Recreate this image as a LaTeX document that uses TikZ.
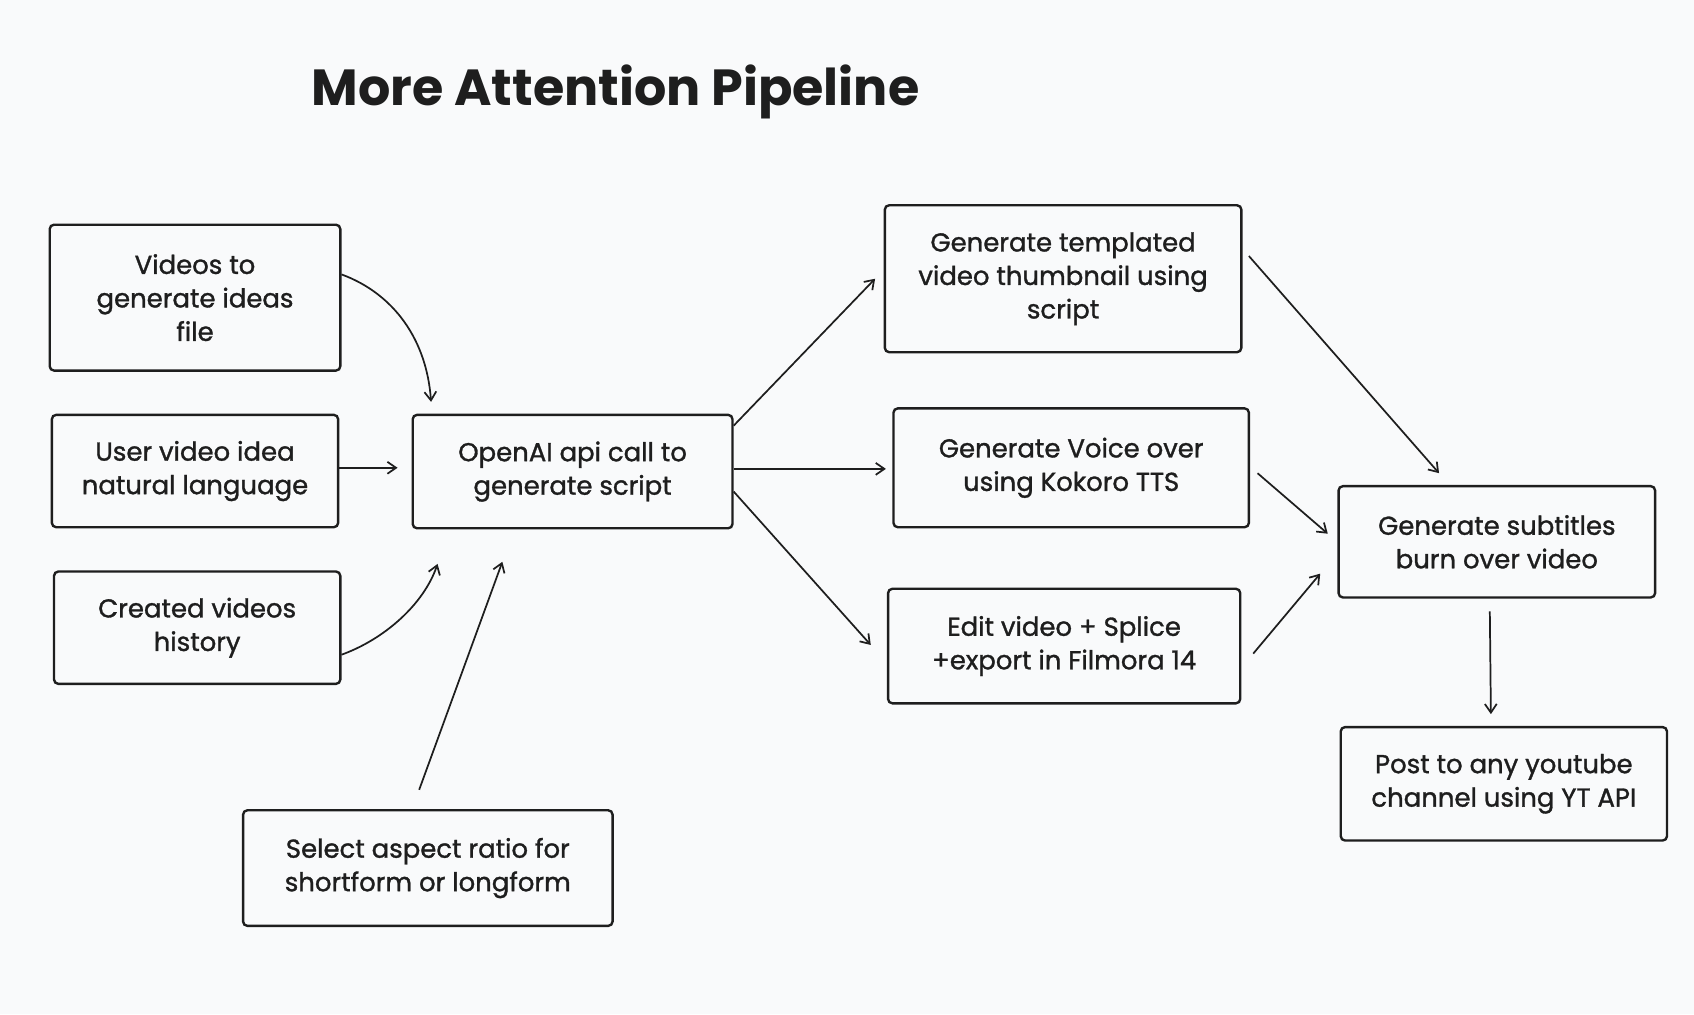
\documentclass[tikz,border=0pt]{standalone}
\usepackage{fontspec}
\setmainfont{Poppins}
\newfontfamily\boxfont{Poppins}[FakeBold=1.2]
\usetikzlibrary{arrows.meta}
\definecolor{bgc}{HTML}{F9FAFB}
\definecolor{ink}{HTML}{1E1E1E}
\tikzset{
  box/.style={draw=ink, line width=2.2pt, rounded corners=4pt, inner sep=0pt,
    align=center, text=ink, font=\boxfont\fontsize{24}{31}\selectfont},
  conn/.style={draw=ink, line width=1.6pt, -{Straight Barb[length=8pt,width=11pt,line width=1.6pt]}},
}
\begin{document}
\begin{tikzpicture}[x=1pt,y=-1pt]
\fill[bgc] (0,0) rectangle (1568,939);
\useasboundingbox (0,0) rectangle (1568,939);
\node[text=ink, font=\fontsize{47}{50}\selectfont\bfseries, anchor=base west] (title) at (285,98) {More Attention Pipeline};

\node[box, minimum width=269pt, minimum height=135pt] (b1) at (180.5,275.5) {Videos to\\generate ideas\\file};
\node[box, minimum width=265pt, minimum height=104pt] (b2) at (180.5,436) {User video idea\\natural language};
\node[box, minimum width=265pt, minimum height=104pt] (b3) at (182.5,581) {Created videos\\history};
\node[box, minimum width=296pt, minimum height=105pt] (b4) at (530,436.5) {OpenAI api call to\\generate script};
\node[box, minimum width=342pt, minimum height=107pt] (b5) at (396,803.5) {Select aspect ratio for\\shortform or longform};
\node[box, minimum width=330pt, minimum height=136pt] (b6) at (984,258) {Generate templated\\video thumbnail using\\script};
\node[box, minimum width=329pt, minimum height=110pt] (b7) at (991.5,433) {Generate Voice over\\using Kokoro TTS};
\node[box, minimum width=326pt, minimum height=106pt] (b8) at (985,598) {Edit video + Splice\\+export in Filmora 14};
\node[box, minimum width=293pt, minimum height=103pt] (b9) at (1385.5,501.5) {Generate subtitles\\burn over video};
\node[box, minimum width=302pt, minimum height=105pt] (b10) at (1392,725.5) {Post to any youtube\\channel using YT API};

% free ends
\coordinate (e1) at (399,372);
\coordinate (e2) at (368,433);
\coordinate (e3) at (405,522);
\coordinate (s5) at (388,731);
\coordinate (e5) at (465,520);
\coordinate (e6) at (810,258);
\coordinate (e7) at (820,434);
\coordinate (e8) at (806,597);
\coordinate (s9) at (1156,237);
\coordinate (e9) at (1332,438);
\coordinate (s10) at (1164,438);
\coordinate (e10) at (1229,494);
\coordinate (s11) at (1160,605);
\coordinate (e11) at (1222,531);
\coordinate (s12) at (1379,566);
\coordinate (e12) at (1380,661);

\draw[conn] (b1.east |- 0,254) .. controls (365,272) and (395,315) .. (e1);
\draw[conn] (b2.east |- 0,433) -- (e2);
\draw[conn] (b3.east |- 0,606) .. controls (355,592) and (392,560) .. (e3);
\draw[conn] (s5) -- (e5);
\draw[conn] (b4.east |- 0,394) -- (e6);
\draw[conn] (b4.east |- 0,434) -- (e7);
\draw[conn] (b4.east |- 0,455) -- (e8);
\draw[conn] (s9) -- (e9);
\draw[conn] (s10) -- (e10);
\draw[conn] (s11) -- (e11);
\draw[conn] (s12) -- (e12);
\end{tikzpicture}
\end{document}
